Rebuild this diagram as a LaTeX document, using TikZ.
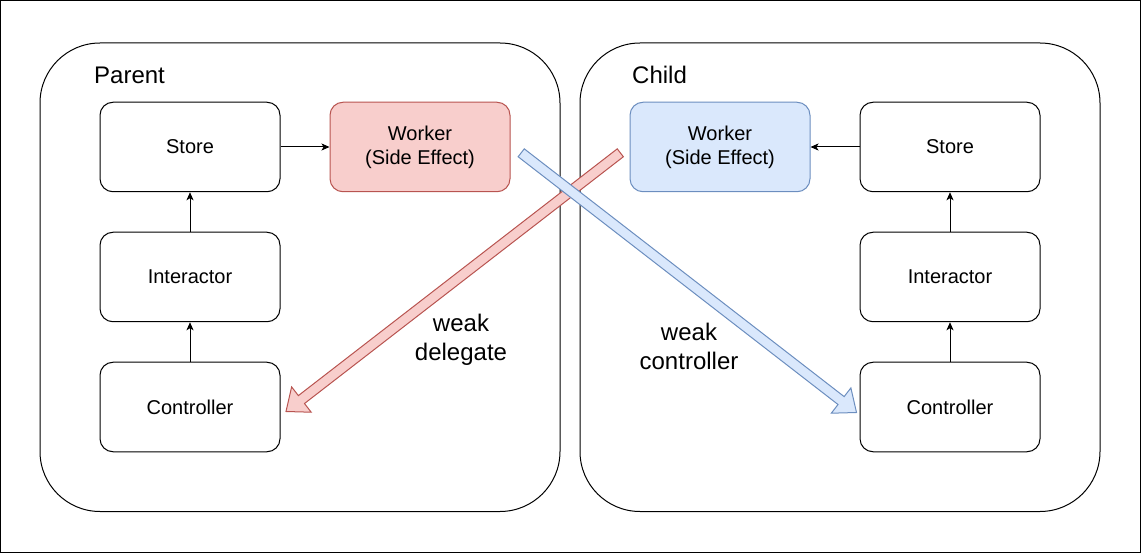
\documentclass[tikz,border=0pt]{standalone}
\usepackage{fontspec}
\setmainfont{Liberation Sans}
\usetikzlibrary{calc,arrows.meta}
\definecolor{redfill}{HTML}{F8CECC}
\definecolor{redline}{HTML}{B85450}
\definecolor{bluefill}{HTML}{DAE8FC}
\definecolor{blueline}{HTML}{6C8EBF}
\begin{document}
\begin{tikzpicture}[x=1pt,y=-1pt,
  container/.style={draw=black, line width=1pt, rounded corners=60pt, minimum width=520pt, minimum height=468.5pt, inner sep=0pt},
  boxnode/.style={draw=black, line width=1pt, rounded corners=13pt, minimum width=180pt, minimum height=89.5pt, inner sep=0pt, align=center, font=\fontsize{20}{24}\selectfont},
  redbox/.style={boxnode, draw=redline, fill=redfill},
  bluebox/.style={boxnode, draw=blueline, fill=bluefill},
  title/.style={anchor=base west, inner sep=0pt, font=\fontsize{24}{29}\selectfont},
  weaklabel/.style={align=center, inner sep=0pt, font=\fontsize{24}{29}\selectfont},
  link/.style={draw=black, line width=1pt, -{Stealth[length=8pt,width=7pt,inset=2pt]}},
  fatarrow/.style={line width=1pt, line join=miter}
]
\useasboundingbox (0,0) rectangle (1141,553);
\draw[line width=1pt] (0.5,0.5) rectangle (1140,552);

% containers
\node[container] (parent) at (300,277.25) {};
\node[container] (child) at (840,277.25) {};
\node[title] (ptitle) at (94,83.3) {Parent};
\node[title] (ctitle) at (632,83.3) {Child};

% parent boxes
\node[boxnode] (pstore) at (190,147) {Store};
\node[boxnode] (pinter) at (190,277) {Interactor};
\node[boxnode] (pctrl) at (190,407) {Controller};
\node[redbox] (pworker) at (420,147) {Worker\\(Side Effect)};

% child boxes
\node[boxnode] (cstore) at (950,147) {Store};
\node[boxnode] (cinter) at (950,277) {Interactor};
\node[boxnode] (cctrl) at (950,407) {Controller};
\node[bluebox] (cworker) at (720,147) {Worker\\(Side Effect)};

% small links
\draw[link] (pstore.east) -- (pworker.west);
\draw[link] (pinter.north) -- (pstore.south);
\draw[link] (pctrl.north) -- (pinter.south);
\draw[link] (cstore.west) -- (cworker.east);
\draw[link] (cinter.north) -- (cstore.south);
\draw[link] (cctrl.north) -- (cinter.south);

% fat arrows
\coordinate (redT) at (620.3,152.8);
\coordinate (redP) at (286,411.5);
\coordinate (redB) at ($(redP)!19.5pt!(redT)$);
\draw[fatarrow, draw=redline, fill=redfill]
  ($(redT)!5pt!90:(redP)$) -- ($(redB)!5pt!-90:(redT)$) -- ($(redB)!16pt!-90:(redT)$) -- (redP)
  -- ($(redB)!16pt!90:(redT)$) -- ($(redB)!5pt!90:(redT)$) -- ($(redT)!5pt!-90:(redP)$) -- cycle;

\coordinate (bluT) at (521.2,152.8);
\coordinate (bluP) at (856.5,412.5);
\coordinate (bluB) at ($(bluP)!19.5pt!(bluT)$);
\draw[fatarrow, draw=blueline, fill=bluefill]
  ($(bluT)!5pt!90:(bluP)$) -- ($(bluB)!5pt!-90:(bluT)$) -- ($(bluB)!16pt!-90:(bluT)$) -- (bluP)
  -- ($(bluB)!16pt!90:(bluT)$) -- ($(bluB)!5pt!90:(bluT)$) -- ($(bluT)!5pt!-90:(bluP)$) -- cycle;

% labels
\node[weaklabel] (wdel) at (461,340) {weak\\delegate};
\node[weaklabel] (wctl) at (689,346) {weak\\controller};
\end{tikzpicture}
\end{document}
